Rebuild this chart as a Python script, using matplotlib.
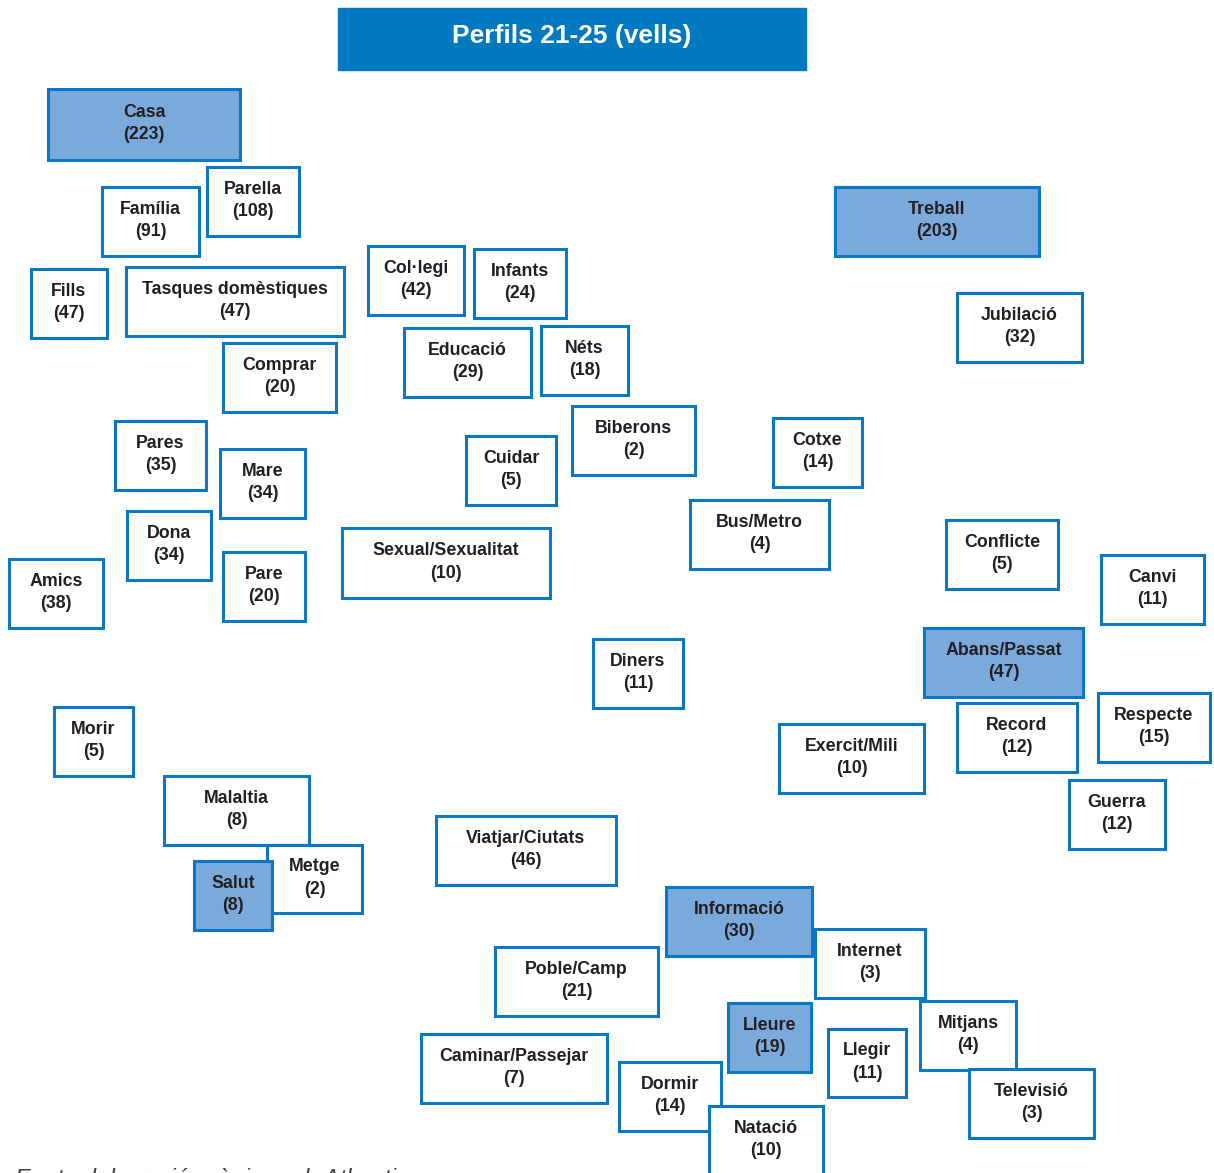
import matplotlib.pyplot as plt
from matplotlib.patches import Rectangle

# codes and number of quotations
labels = ['Casa', 'Parella', 'Família', 'Treball', 'Fills', 'Tasques domèstiques',
          'Col·legi', 'Infants', 'Jubilació', 'Educació', 'Néts', 'Comprar',
          'Biberons', 'Cotxe', 'Pares', 'Mare', 'Cuidar', 'Bus/Metro', 'Dona',
          'Sexual/Sexualitat', 'Conflicte', 'Amics', 'Pare', 'Canvi',
          'Abans/Passat', 'Diners', 'Respecte', 'Record', 'Exercit/Mili', 'Morir',
          'Malaltia', 'Guerra', 'Viatjar/Ciutats', 'Metge', 'Salut', 'Informació',
          'Internet', 'Poble/Camp', 'Lleure', 'Mitjans', 'Llegir',
          'Caminar/Passejar', 'Televisió', 'Dormir', 'Natació']
counts = [223, 108, 91, 203, 47, 47, 42, 24, 32, 29, 18, 20, 2, 14, 35, 34, 5, 4,
          34, 10, 5, 38, 20, 11, 47, 11, 15, 12, 10, 5, 8, 12, 46, 2, 8, 30, 3, 21,
          19, 4, 11, 7, 3, 14, 10]
highlighted = ['Casa', 'Treball', 'Abans/Passat', 'Salut', 'Informació', 'Lleure']

# box layout in pixels (left, top, right, bottom)
layout = [(48, 89, 240, 160), (207, 167, 299, 236), (102, 187, 199, 256),
          (835, 187, 1039, 256), (31, 269, 107, 338), (126, 267, 344, 336),
          (368, 246, 464, 315), (474, 249, 566, 318), (957, 293, 1082, 362),
          (404, 328, 531, 397), (541, 326, 628, 395), (223, 343, 336, 412),
          (572, 406, 695, 475), (773, 418, 862, 487), (115, 421, 206, 490),
          (220, 449, 305, 518), (466, 436, 556, 505), (690, 500, 829, 569),
          (127, 511, 211, 580), (342, 528, 550, 598), (946, 520, 1058, 589),
          (9, 559, 103, 628), (223, 552, 305, 621), (1101, 555, 1204, 624),
          (924, 628, 1083, 697), (593, 639, 683, 708), (1098, 693, 1210, 762),
          (957, 703, 1077, 772), (779, 724, 924, 793), (54, 707, 133, 776),
          (164, 776, 309, 845), (1069, 780, 1165, 849), (436, 816, 616, 885),
          (267, 845, 362, 913), (194, 861, 272, 930), (666, 887, 812, 956),
          (815, 929, 925, 998), (495, 947, 658, 1016), (728, 1003, 811, 1072),
          (920, 1001, 1016, 1070), (828, 1029, 906, 1097), (421, 1034, 607, 1103),
          (969, 1069, 1094, 1138), (619, 1062, 721, 1131), (709, 1106, 823, 1175)]

title = 'Perfils 21-25 (vells)'
source = 'Font: elaboració pròpia amb Atlas.ti'

W, H = 1214, 1173
edge = '#0A78C4'
fill = '#7AAADB'
txt = '#231F20'

plt.rcParams['font.family'] = ['Liberation Sans', 'DejaVu Sans']

fig = plt.figure(figsize=(W / 100, H / 100), dpi=100)
ax = fig.add_axes([0, 0, 1, 1])
ax.set_xlim(0, W)
ax.set_ylim(H, 0)
ax.axis('off')

# title bar
ax.add_patch(Rectangle((338, 8), 468, 62, facecolor='#0079C1', edgecolor='#0079C1', lw=1))
ax.text(572, 36, title, color='white', fontsize=19, fontweight='bold',
        ha='center', va='center')

for i, (lab, n) in enumerate(zip(labels, counts)):
    x0, y0, x1, y1 = layout[i]
    fc = fill if lab in highlighted else 'white'
    ax.add_patch(Rectangle((x0, y0), x1 - x0, y1 - y0, facecolor=fc,
                           edgecolor=edge, lw=2.2, zorder=2 + i * 0.01))
    ax.text((x0 + x1) / 2, (y0 + y1) / 2 - 1, lab + '\n(' + str(n) + ')',
            ha='center', va='center', fontsize=12.8, fontweight='bold',
            color=txt, linespacing=1.4, zorder=2 + i * 0.01 + 0.005)

# source note, cut by the lower edge as in the original
ax.text(15, 1186, source, fontsize=17.5, style='italic', color='#444444',
        ha='left', va='baseline', clip_on=True)

fig.savefig('out.png', dpi=100)
